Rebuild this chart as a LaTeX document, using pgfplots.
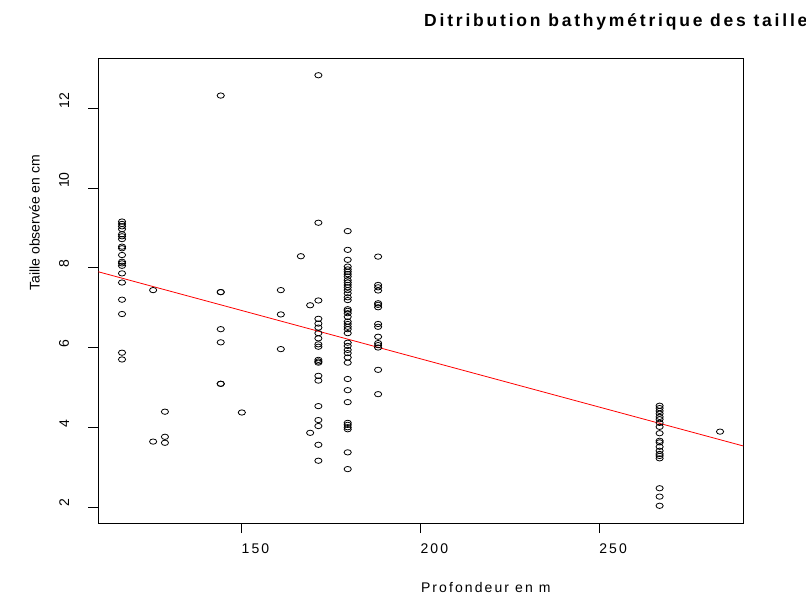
\documentclass[border=0pt]{standalone}
\usepackage{fontspec}
\setmainfont{Liberation Sans}
\newfontfamily\spaced[LetterSpace=15]{Liberation Sans}
\newfontfamily\tspaced[LetterSpace=16]{Liberation Sans}
\usepackage{pgfplots}
\pgfplotsset{compat=1.18}
\pgfdeclareplotmark{oval}{%
  \pgfpathellipse{\pgfpointorigin}{\pgfqpoint{\pgfplotmarksize}{0pt}}{\pgfqpoint{0pt}{0.74\pgfplotmarksize}}%
  \pgfusepathqstroke}
\pgfplotstableread{
x y
116.6 9.16
116.6 9.10
116.6 9.04
116.6 8.97
116.6 8.84
116.6 8.79
116.6 8.72
116.6 8.53
116.6 8.49
116.6 8.32
116.6 8.15
116.6 8.11
116.6 8.05
116.6 7.86
116.6 7.63
116.6 7.20
116.6 6.84
116.6 5.87
116.6 5.70
125.3 7.44
125.3 3.64
128.6 4.39
128.6 3.76
128.6 3.61
144.2 12.32
144.2 7.39
144.2 7.39
144.2 6.46
144.2 6.13
144.2 5.09
144.2 5.09
150.1 4.37
161.0 7.44
161.0 6.83
161.0 5.96
166.6 8.29
169.2 7.06
169.2 3.86
171.5 12.83
171.5 9.13
171.5 7.18
171.5 6.72
171.5 6.60
171.5 6.50
171.5 6.36
171.5 6.23
171.5 6.08
171.5 6.02
171.5 5.69
171.5 5.65
171.5 5.62
171.5 5.29
171.5 5.17
171.5 4.53
171.5 4.18
171.5 4.03
171.5 3.56
171.5 3.16
179.7 8.92
179.7 8.45
179.7 8.20
179.7 8.03
179.7 7.96
179.7 7.90
179.7 7.84
179.7 7.78
179.7 7.69
179.7 7.63
179.7 7.57
179.7 7.51
179.7 7.44
179.7 7.36
179.7 7.26
179.7 7.19
179.7 6.96
179.7 6.92
179.7 6.86
179.7 6.77
179.7 6.65
179.7 6.59
179.7 6.52
179.7 6.46
179.7 6.36
179.7 6.12
179.7 6.04
179.7 5.94
179.7 5.86
179.7 5.75
179.7 5.62
179.7 5.21
179.7 4.93
179.7 4.63
179.7 4.11
179.7 4.06
179.7 4.00
179.7 3.95
179.7 3.37
179.7 2.95
188.2 8.28
188.2 7.57
188.2 7.51
188.2 7.43
188.2 7.11
188.2 7.07
188.2 7.01
188.2 6.59
188.2 6.52
188.2 6.27
188.2 6.11
188.2 6.06
188.2 6.00
188.2 5.44
188.2 4.83
266.9 4.54
266.9 4.48
266.9 4.41
266.9 4.34
266.9 4.26
266.9 4.20
266.9 4.11
266.9 4.01
266.9 3.85
266.9 3.66
266.9 3.62
266.9 3.51
266.9 3.41
266.9 3.33
266.9 3.28
266.9 3.22
266.9 2.47
266.9 2.26
266.9 2.03
283.8 3.89
}\pts
\begin{document}
\begin{tikzpicture}
\useasboundingbox (0bp,0bp) rectangle (806bp,597bp);
\begin{axis}[
  at={(98.3bp,74bp)}, anchor=south west,
  scale only axis, width=645bp, height=464.9bp,
  xmin=109.97, xmax=290.3, ymin=1.598, ymax=13.26,
  xtick={150,200,250}, ytick={2,4,6,8,10,12},
  xtick pos=bottom, ytick pos=left,
  tick align=outside, major tick length=10bp,
  axis line style={line width=0.8bp},
  every tick/.style={black, line width=0.8bp},
  /pgf/number format/assume math mode=true,
  xticklabel style={font=\spaced\fontsize{14bp}{16bp}\selectfont, anchor=north west, inner sep=0pt, yshift=-11bp},
  yticklabel style={xshift=-19bp, font=\fontsize{14bp}{16bp}\selectfont, rotate=90, anchor=south west, inner sep=0pt},
  xlabel={Profondeur en m},
  ylabel={Taille observée en cm},
  xlabel style={font=\spaced\fontsize{14bp}{16bp}\selectfont, at={(axis description cs:0.5,0)}, anchor=north west, inner sep=0pt, yshift=-59bp},
  ylabel style={font=\fontsize{14bp}{16bp}\selectfont, at={(axis description cs:-0.0905,0.5)}, rotate=0, anchor=south west, inner sep=0pt},
]
\addplot[only marks, mark=oval, mark size=3.6bp, mark options={line width=0.8bp, black}] table[x=x,y=y] {\pts};
\addplot[red, line width=0.8bp] coordinates {(109.97,7.90) (290.3,3.53)};
\end{axis}
\begin{scope}
\clip (0bp,0bp) rectangle (806bp,597bp);
\node[anchor=west, inner sep=0pt, font=\tspaced\bfseries\fontsize{17.5bp}{19bp}\selectfont] at (424bp,575bp) {Ditribution bathymétrique des tailles};
\end{scope}
\end{tikzpicture}
\end{document}
